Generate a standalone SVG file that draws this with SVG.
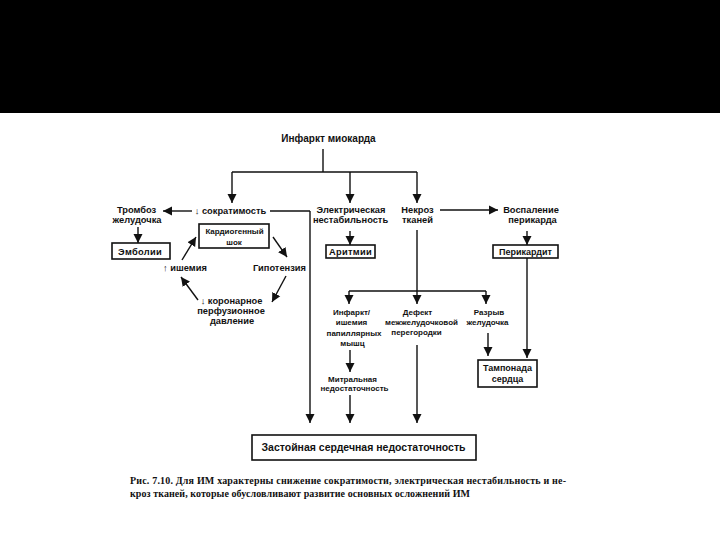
<svg xmlns="http://www.w3.org/2000/svg" width="720" height="540" viewBox="0 0 720 540">
<defs>
<marker id="ah" markerUnits="userSpaceOnUse" markerWidth="9" markerHeight="10" viewBox="0 0 10 10" refX="10" refY="5" orient="auto">
<path d="M0,0 L10,5 L0,10 Z" fill="#111"/>
</marker>
<style>
.t{font-family:"Liberation Sans",Arial,sans-serif;font-weight:bold;font-size:9.3px;fill:#111;text-anchor:middle}
.tl{font-size:10.5px}
.tb{font-size:9.3px;letter-spacing:0.3px}
.ts{font-size:8px}
.b{fill:#fff;stroke:#111;stroke-width:1.6}
.c{fill:none;stroke:#111;stroke-width:1.4}
.a{fill:none;stroke:#111;stroke-width:1.4;marker-end:url(#ah)}
.cap{font-family:"Liberation Serif","Times New Roman",serif;font-weight:bold;font-size:10px;fill:#111}
</style>
</defs>
<rect x="0" y="0" width="720" height="540" fill="#fff"/>
<rect x="0" y="0" width="720" height="113" fill="#000"/>

<g id="connectors">
<path class="c" d="M323,149 V172 M232,172 H417"/>
<path class="a" d="M232,172 V203"/>
<path class="a" d="M350,172 V203"/>
<path class="a" d="M417,172 V203"/>
<path class="a" d="M192,211 H163"/>
<path class="a" d="M440,210 H498"/>
<path class="a" d="M138,227 V243"/>
<path class="a" d="M350,231 V245"/>
<path class="a" d="M527,231 V245"/>
<path class="c" d="M270,211 H310"/>
<path class="a" d="M310,211 V423"/>
<path class="a" d="M273,237 L287,257"/>
<path class="a" d="M182,260 L196,237"/>
<path class="a" d="M286,276 L272,302"/>
<path class="a" d="M198,300 L181,277"/>
<path class="c" d="M417,230 V291 M349,291 H486"/>
<path class="a" d="M349,291 V304"/>
<path class="a" d="M417,291 V304"/>
<path class="a" d="M486,291 V304"/>
<path class="a" d="M350,350 V372"/>
<path class="a" d="M350,395 V423"/>
<path class="a" d="M417,345 V423"/>
<path class="a" d="M488,333 V356"/>
<path class="a" d="M527,258 V358"/>
</g>

<g id="n-im"><text class="t" x="328.5" y="142" style="font-size:10px">Инфаркт миокарда</text></g>
<g id="n-sokr"><text class="t" x="230.5" y="214">↓ сократимость</text></g>
<g id="n-tromb"><text class="t" x="136.5" y="213">Тромбоз</text><text class="t" x="137" y="223">желудочка</text></g>
<g id="n-embol"><rect class="b" x="112" y="243" width="58" height="16"/><text class="t tb" x="140" y="254.5">Эмболии</text></g>
<g id="n-shok"><rect class="b" x="199" y="224" width="70" height="24"/><text class="t ts" x="234.5" y="234">Кардиогенный</text><text class="t ts" x="234" y="244.5">шок</text></g>
<g id="n-hypo"><text class="t" x="279.5" y="271">Гипотензия</text></g>
<g id="n-ish"><text class="t" x="185" y="271">↑ ишемия</text></g>
<g id="n-koron"><text class="t" x="231.5" y="304">↓ коронарное</text><text class="t" x="231" y="314">перфузионное</text><text class="t" x="232" y="324">давление</text></g>
<g id="n-elec"><text class="t" x="351" y="213">Электрическая</text><text class="t" x="350.5" y="223">нестабильность</text></g>
<g id="n-arit"><rect class="b" x="326" y="245" width="49" height="13"/><text class="t tb" x="350.5" y="254.8">Аритмии</text></g>
<g id="n-nekr"><text class="t" x="417.5" y="213">Некроз</text><text class="t" x="417.5" y="223">тканей</text></g>
<g id="n-vospal"><text class="t" x="531" y="213">Воспаление</text><text class="t" x="532.5" y="223">перикарда</text></g>
<g id="n-perik"><rect class="b" x="493" y="245" width="65" height="13"/><text class="t" x="525.5" y="254.8" style="font-size:9px">Перикардит</text></g>
<g id="n-papil"><text class="t ts" x="351.5" y="315">Инфаркт/</text><text class="t ts" x="351.5" y="325">ишемия</text><text class="t ts" x="354" y="336">папиллярных</text><text class="t ts" x="352.5" y="346">мышц</text></g>
<g id="n-defekt"><text class="t ts" x="417.5" y="315">Дефект</text><text class="t ts" x="421.5" y="325">межжелудочковой</text><text class="t ts" x="416.5" y="335">перегородки</text></g>
<g id="n-razryv"><text class="t ts" x="489" y="315">Разрыв</text><text class="t ts" x="487.5" y="325">желудочка</text></g>
<g id="n-mitr"><text class="t ts" x="352.5" y="382">Митральная</text><text class="t ts" x="354.5" y="391">недостаточность</text></g>
<g id="n-tamp"><rect class="b" x="478" y="360" width="59" height="27"/><text class="t" x="507.5" y="371" style="font-size:9px">Тампонада</text><text class="t" x="507.5" y="382" style="font-size:9px">сердца</text></g>
<g id="n-zast"><rect class="b" x="252" y="435" width="224" height="25"/><text class="t tl" x="363.5" y="451">Застойная сердечная недостаточность</text></g>

<g id="caption">
<text class="cap" x="130" y="484" textLength="436" lengthAdjust="spacing">Рис. 7.10. Для ИМ характерны снижение сократимости, электрическая нестабильность и  не-</text>
<text class="cap" x="130" y="497" textLength="340" lengthAdjust="spacing">кроз тканей, которые обусловливают развитие основных осложнений ИМ</text>
</g>
</svg>
